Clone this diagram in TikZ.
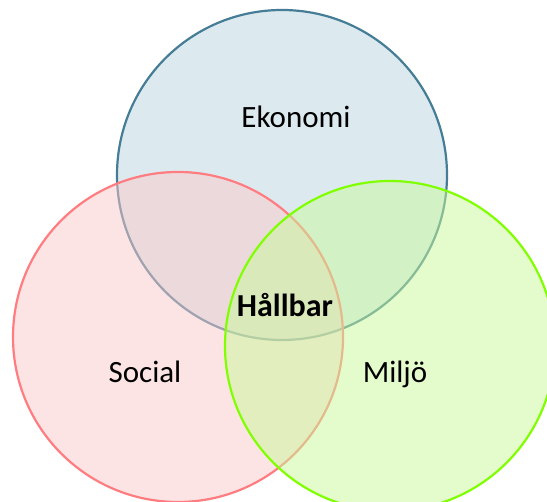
\documentclass[tikz,border=0pt]{standalone}
\usepackage{fontspec}
\setmainfont{Carlito}
\usepackage{tikz}
\usetikzlibrary{positioning}
\definecolor{ekoline}{RGB}{70,125,150}
\definecolor{ekofill}{RGB}{185,213,225}
\definecolor{socline}{RGB}{255,124,128}
\definecolor{socfill}{RGB}{251,201,201}
\definecolor{milline}{RGB}{128,255,0}
\definecolor{milfill}{RGB}{201,249,153}
\tikzset{
  ring/.style={circle,draw,line width=2.2pt,minimum size=330pt,inner sep=0pt,fill opacity=0.5},
  lbl/.style={anchor=base,font=\fontsize{31}{36}\selectfont},
}

\begin{document}
\begin{tikzpicture}[x=1pt,y=1pt]
  \clip (0,0) rectangle (547,502);
  \node[ring,draw=ekoline,fill=ekofill] (eko) at (282,327) {};
  \node[ring,draw=socline,fill=socfill] (soc) at (178,165) {};
  \node[ring,draw=milline,fill=milfill] (mil) at (390,156) {};
  \node[lbl] (ekotxt) at (296,374) {Ekonomi};
  \node[lbl] (soctxt) at (145,119) {Social};
  \node[lbl] (miltxt) at (395,119) {Miljö};
  \node[lbl,font=\fontsize{32}{36}\selectfont\bfseries] (hall) at (285,185) {Hållbar};
\end{tikzpicture}
\end{document}
